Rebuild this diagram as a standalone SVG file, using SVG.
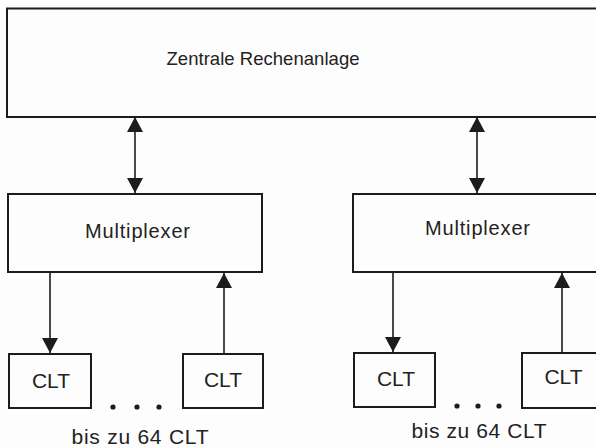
<svg xmlns="http://www.w3.org/2000/svg" width="596" height="448" viewBox="0 0 596 448">
  <style>
    .box { fill: none; stroke: #1c1c1c; stroke-width: 2; }
    .link { stroke: #1c1c1c; stroke-width: 1.6; fill: none; }
    .lbl { font-family: "Liberation Sans", Arial, sans-serif; fill: #222; text-anchor: middle; }
    .dot { fill: #1c1c1c; }
  </style>
  <defs>
    <marker id="head" viewBox="0 0 15 16" refX="15" refY="8" markerWidth="15" markerHeight="16" markerUnits="userSpaceOnUse" orient="auto-start-reverse">
      <path d="M0,0 L15,8 L0,16 z" fill="#1c1c1c"/>
    </marker>
  </defs>
  <rect width="596" height="448" fill="#fdfdfd"/>

  <g id="zentrale">
    <rect class="box" x="7" y="8.5" width="600" height="108.5"/>
    <text class="lbl" x="263" y="65" font-size="18.5" textLength="193" lengthAdjust="spacing">Zentrale Rechenanlage</text>
  </g>

  <g id="mux-left">
    <rect class="box" x="8" y="194" width="254" height="78"/>
    <text class="lbl" x="137.5" y="238" font-size="20" textLength="105" lengthAdjust="spacing">Multiplexer</text>
  </g>
  <g id="mux-right">
    <rect class="box" x="353" y="194" width="260" height="78"/>
    <text class="lbl" x="477.5" y="235" font-size="20" textLength="105" lengthAdjust="spacing">Multiplexer</text>
  </g>

  <g id="clt-left-1">
    <rect class="box" x="9" y="354" width="82" height="54"/>
    <text class="lbl" x="51" y="387.5" font-size="21">CLT</text>
  </g>
  <g id="clt-left-2">
    <rect class="box" x="183" y="354" width="80" height="54"/>
    <text class="lbl" x="223" y="387" font-size="21">CLT</text>
  </g>
  <g id="clt-right-1">
    <rect class="box" x="354" y="353" width="81" height="54"/>
    <text class="lbl" x="396" y="385.5" font-size="21">CLT</text>
  </g>
  <g id="clt-right-2">
    <rect class="box" x="522" y="353" width="90" height="55"/>
    <text class="lbl" x="563.5" y="383.5" font-size="21">CLT</text>
  </g>

  <g id="group-left-caption">
    <circle class="dot" cx="113" cy="407" r="2.6"/>
    <circle class="dot" cx="137" cy="407" r="2.6"/>
    <circle class="dot" cx="159" cy="407" r="2.6"/>
    <text class="lbl" x="140" y="444" font-size="21" textLength="137" lengthAdjust="spacing">bis zu 64 CLT</text>
  </g>
  <g id="group-right-caption">
    <circle class="dot" cx="457" cy="406" r="2.6"/>
    <circle class="dot" cx="478" cy="406" r="2.6"/>
    <circle class="dot" cx="499" cy="406" r="2.6"/>
    <text class="lbl" x="479" y="438" font-size="21" textLength="135" lengthAdjust="spacing">bis zu 64 CLT</text>
  </g>

  <g id="connectors">
    <line class="link" x1="135" y1="117" x2="135" y2="193" marker-start="url(#head)" marker-end="url(#head)"/>
    <line class="link" x1="477" y1="117" x2="477" y2="193" marker-start="url(#head)" marker-end="url(#head)"/>
    <line class="link" x1="50" y1="273" x2="50" y2="353" marker-end="url(#head)"/>
    <line class="link" x1="224" y1="353" x2="224" y2="273" marker-end="url(#head)"/>
    <line class="link" x1="393" y1="273" x2="393" y2="352" marker-end="url(#head)"/>
    <line class="link" x1="562" y1="352" x2="562" y2="273" marker-end="url(#head)"/>
  </g>
</svg>
